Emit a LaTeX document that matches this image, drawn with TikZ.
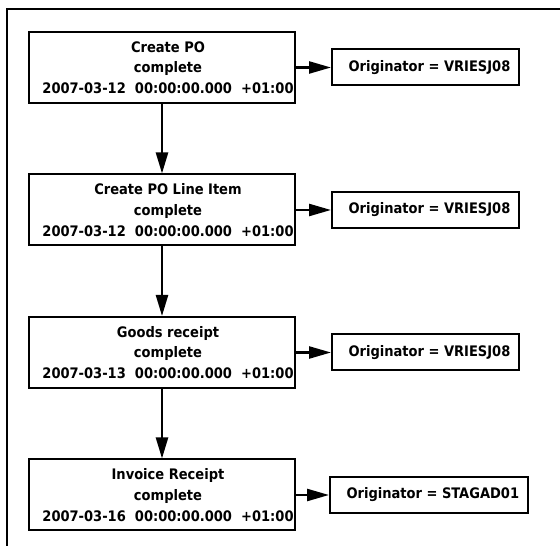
\documentclass[tikz,border=0pt]{standalone}
\usepackage{fontspec}
\setmainfont{DejaVu Sans Condensed}
\usetikzlibrary{arrows.meta}
\begin{document}
\begin{tikzpicture}[x=1bp,y=1bp,
  every node/.style={font=\fontsize{14.5bp}{20.7bp}\selectfont\bfseries, text=black},
  event/.style={draw, line width=2bp, minimum width=266bp, minimum height=71bp,
    inner sep=0pt},
  evtext/.style={align=center, inner sep=0pt, xshift=6bp},
  origin/.style={draw, line width=2bp, minimum height=36bp, inner xsep=8.5bp,
    inner ysep=0pt, anchor=west},
  flow/.style={line width=2.4bp, -{Triangle[length=21bp,width=12bp]}},
  link/.style={line width=2.4bp, -{Triangle[length=22bp,width=12bp]}}]
  \useasboundingbox (0,0) rectangle (560,546);
  \fill[white] (0,0) rectangle (560,546);
  % open frame around the log entries
  \draw[line width=1.6bp] (7,0) -- (7,537) -- (560,537);

  % audit trail events
  \node[event, label={[evtext]center:{Create PO\\complete\\2007-03-12\ \ 00:00:00.000\ \ +01:00}}]
    (e1) at (162,478.5) {};
  \node[event, label={[evtext]center:{Create PO Line Item\\complete\\2007-03-12\ \ 00:00:00.000\ \ +01:00}}]
    (e2) at (162,336) {};
  \node[event, label={[evtext]center:{Goods receipt\\complete\\2007-03-13\ \ 00:00:00.000\ \ +01:00}}]
    (e3) at (162,193.5) {};
  \node[event, label={[evtext]center:{Invoice Receipt\\complete\\2007-03-16\ \ 00:00:00.000\ \ +01:00}}]
    (e4) at (162,51) {};

  % originators of each event
  \node[origin] (o1) at (331,478.5) {\hspace{8bp}Originator = VRIESJ08};
  \node[origin] (o2) at (331,336)   {\hspace{8bp}Originator = VRIESJ08};
  \node[origin] (o3) at (331,193.5) {\hspace{8bp}Originator = VRIESJ08};
  \node[origin] (o4) at (329,51)    {\hspace{8bp}Originator = STAGAD01};

  % sequence of events
  \draw[flow] (e1) -- (e2);
  \draw[flow] (e2) -- (e3);
  \draw[flow] (e3) -- (e4);

  % event to originator
  \draw[link] (e1) -- (o1);
  \draw[link] (e2) -- (o2);
  \draw[link] (e3) -- (o3);
  \draw[link] (e4) -- (o4);
\end{tikzpicture}
\end{document}
